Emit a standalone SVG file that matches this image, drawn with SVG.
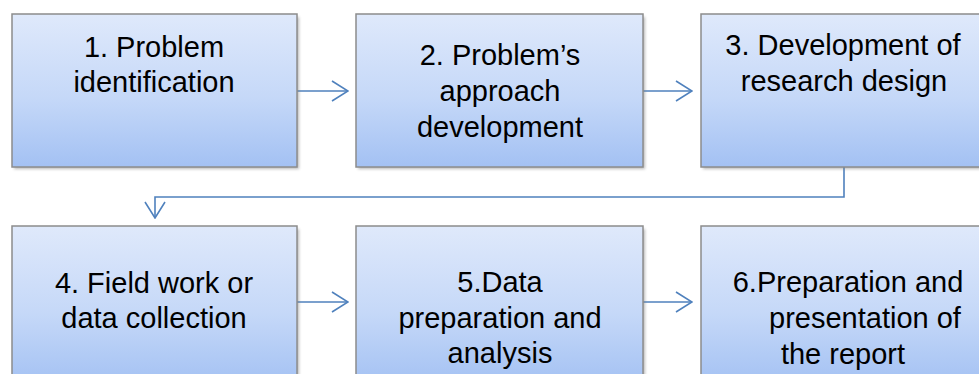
<svg xmlns="http://www.w3.org/2000/svg" width="979" height="374" viewBox="0 0 979 374">
<style>
.box{fill:url(#g);stroke:#8c8c8c;stroke-width:1.5}
.sh{fill:#7f7f7f;opacity:0.55;filter:url(#blur)}
.t{font-family:"Liberation Sans",Arial,sans-serif;font-size:29px;fill:#000;text-anchor:middle}
.c{fill:none;stroke:#4f81bd;stroke-width:1.6}
</style>
<defs>
<linearGradient id="g" x1="0" y1="0" x2="0" y2="1">
<stop offset="0" stop-color="#dfe9fb"/>
<stop offset="0.55" stop-color="#c5d8f8"/>
<stop offset="1" stop-color="#a3c1f3"/>
</linearGradient>
<filter id="blur" x="-5%" y="-5%" width="110%" height="110%"><feGaussianBlur stdDeviation="1.5"/></filter>
<marker id="ar" viewBox="0 0 18 22" refX="17" refY="11" markerWidth="18" markerHeight="22" markerUnits="userSpaceOnUse" orient="auto">
<path d="M1,1 L17,11 L1,21" fill="none" stroke="#4f81bd" stroke-width="1.6"/>
</marker>
</defs>
<rect width="979" height="374" fill="#fff"/>
<g id="connectors">
<path class="c" d="M297,91 H348" marker-end="url(#ar)"/>
<path class="c" d="M643,91 H692" marker-end="url(#ar)"/>
<path class="c" d="M844,167 V197 H155 V218" marker-end="url(#ar)"/>
<path class="c" d="M297,302 H348" marker-end="url(#ar)"/>
<path class="c" d="M643,302 H692" marker-end="url(#ar)"/>
</g>
<g id="node1">
<rect class="sh" x="14" y="17" width="285" height="152"/>
<rect class="box" x="12" y="14" width="285" height="153"/>
<text class="t" x="154" y="57">1. Problem</text>
<text class="t" x="154" y="92">identification</text>
</g>
<g id="node2">
<rect class="sh" x="358" y="17" width="287" height="152"/>
<rect class="box" x="356" y="14" width="287" height="153"/>
<text class="t" x="500" y="65">2. Problem’s</text>
<text class="t" x="500" y="101">approach</text>
<text class="t" x="500" y="137">development</text>
</g>
<g id="node3">
<rect class="sh" x="703" y="17" width="290" height="152"/>
<rect class="box" x="701" y="14" width="290" height="153"/>
<text class="t" x="843" y="55">3. Development of</text>
<text class="t" x="844" y="91">research design</text>
</g>
<g id="node4">
<rect class="sh" x="14" y="229" width="285" height="160"/>
<rect class="box" x="12" y="226" width="285" height="160"/>
<text class="t" x="154" y="293">4. Field work or</text>
<text class="t" x="154" y="328">data collection</text>
</g>
<g id="node5">
<rect class="sh" x="358" y="229" width="287" height="160"/>
<rect class="box" x="356" y="226" width="287" height="160"/>
<text class="t" x="500" y="292">5.Data</text>
<text class="t" x="500" y="328">preparation and</text>
<text class="t" x="500" y="363">analysis</text>
</g>
<g id="node6">
<rect class="sh" x="703" y="229" width="290" height="160"/>
<rect class="box" x="701" y="226" width="290" height="160"/>
<text class="t" x="848" y="292">6.Preparation and</text>
<text class="t" x="865" y="328">presentation of</text>
<text class="t" x="843" y="364">the report</text>
</g>
</svg>
